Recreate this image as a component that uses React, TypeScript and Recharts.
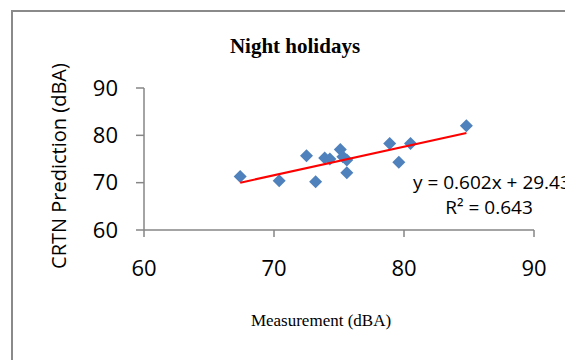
import React from 'react';
import { ScatterChart, Scatter, XAxis, YAxis } from 'recharts';

const measurement = [67.4, 70.4, 72.5, 73.2, 73.9, 74.3, 75.1, 75.3, 75.6, 75.6, 78.9, 79.6, 80.5, 84.8];
const prediction = [71.3, 70.4, 75.7, 70.2, 75.2, 75.0, 77.0, 75.5, 74.8, 72.1, 78.3, 74.3, 78.3, 82.0];
const trendX = [67.4, 84.8];
const trendY = [70.0, 80.5];
const ticks = [60, 70, 80, 90];

const points = measurement.map((x, i) => ({ x, y: prediction[i] }));
const trend = trendX.map((x, i) => ({ x, y: trendY[i] }));

const Diamond = (props: any) => {
  const { cx, cy } = props;
  const r = 6.5;
  return <polygon points={`${cx},${cy - r} ${cx + r},${cy} ${cx},${cy + r} ${cx - r},${cy}`} fill="#4F81BD" />;
};

const NoDot = () => <g />;

const sans = '"Open Sans", sans-serif';
const serif = '"Liberation Serif", "Times New Roman", serif';

const App: React.FC = () => {
  return (
    <div style={{ position: 'absolute', left: 0, top: 0, width: 565, height: 360, overflow: 'hidden', background: '#fff' }}>
      <div style={{ position: 'absolute', left: 11, top: 10, width: 640, height: 420, border: '2px solid #8a8a8a' }} />
      <ScatterChart width={565} height={360} margin={{ top: 88, right: 31, bottom: 90, left: 84 }} style={{ position: 'absolute', left: 0, top: 0 }}>
        <XAxis
          type="number"
          dataKey="x"
          domain={[60, 90]}
          ticks={ticks}
          height={40}
          tickSize={7}
          tickMargin={23}
          stroke="#868686"
          strokeWidth={1.5}
          tick={{ fill: '#000', fontSize: 22, fontFamily: sans }}
        />
        <YAxis
          type="number"
          dataKey="y"
          domain={[60, 90]}
          ticks={ticks}
          width={60}
          tickSize={8}
          tickMargin={18}
          stroke="#868686"
          strokeWidth={1.5}
          tick={{ fill: '#000', fontSize: 22, fontFamily: sans }}
        />
        <Scatter data={points} shape={Diamond} isAnimationActive={false} />
        <Scatter data={trend} shape={NoDot} line={{ stroke: '#FF0000', strokeWidth: 2 }} isAnimationActive={false} />
      </ScatterChart>
      <svg width={565} height={360} style={{ position: 'absolute', left: 0, top: 0, pointerEvents: 'none' }}>
        <text x={295} y={53} textAnchor="middle" fontFamily={serif} fontWeight="bold" fontSize={21}>Night holidays</text>
        <text x={321} y={326} textAnchor="middle" fontFamily={serif} fontSize={17}>Measurement (dBA)</text>
        <text x={66} y={166} transform="rotate(-90 66 166)" textAnchor="middle" fontFamily={sans} fontSize={20}>CRTN Prediction (dBA)</text>
        <text x={413} y={189} fontFamily={sans} fontSize={19}>y = 0.602x + 29.43</text>
        <text x={489} y={214} textAnchor="middle" fontFamily={sans} fontSize={19}>R² = 0.643</text>
      </svg>
    </div>
  );
};

export default App;
